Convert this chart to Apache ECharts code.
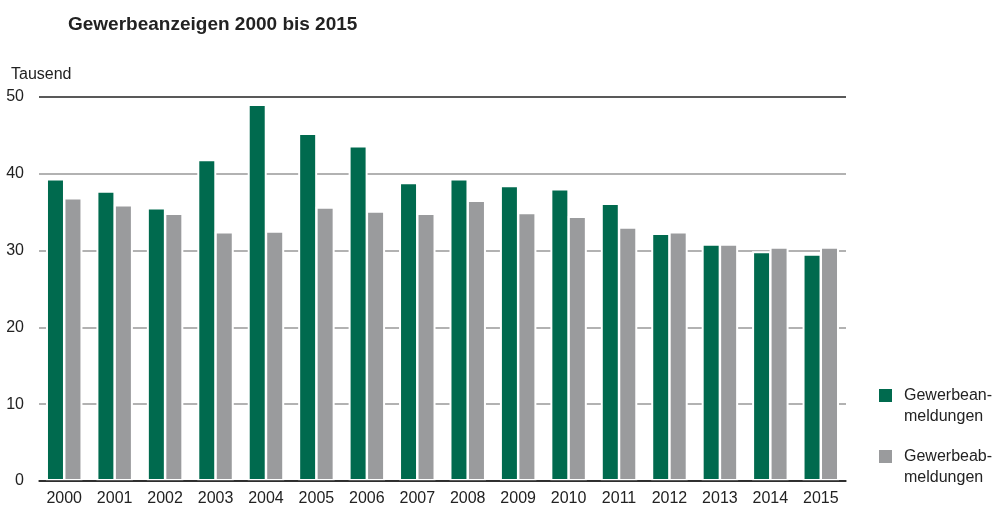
<!DOCTYPE html>
<html><head><meta charset="utf-8">
<script src="https://cdn.jsdelivr.net/npm/echarts@6/dist/echarts.min.js"></script>
<style>html,body{margin:0;padding:0;background:#fff}#c{width:1000px;height:529px}</style>
</head><body><div id="c"></div>
<script>
const years = ['2000','2001','2002','2003','2004','2005','2006','2007','2008','2009','2010','2011','2012','2013','2014','2015'];
const anmeldungen = [39.4,37.8,35.6,41.9,49.1,45.3,43.7,38.9,39.4,38.5,38.1,36.2,32.3,30.9,29.9,29.6];
const abmeldungen = [36.9,36.0,34.9,32.5,32.6,35.7,35.2,34.9,36.6,35.0,34.5,33.1,32.5,30.9,30.5,30.5];
const nameAn = 'Gewerbean-\nmeldungen';
const nameAb = 'Gewerbeab-\nmeldungen';
const font = 'Liberation Sans, Arial, sans-serif';

const chart = echarts.init(document.getElementById('c'), null, {renderer:'canvas'});
const legendText = {fontFamily:font, fontSize:16, color:'#222', lineHeight:21, padding:[0,0,0,6]};
const legendFmt = n => '\n' + n;
chart.setOption({
  animation:false,
  backgroundColor:'#fff',
  title:{text:'Gewerbeanzeigen 2000 bis 2015', left:63, top:10,
    textStyle:{fontFamily:font, fontSize:19, fontWeight:'bold', color:'#222'}},
  legend:[
    {data:[nameAn], orient:'vertical', left:872, top:359, padding:5, itemWidth:15, itemHeight:15, itemGap:0,
      icon:'rect', formatter:legendFmt, textStyle:legendText, selectedMode:false},
    {data:[nameAb], orient:'vertical', left:872, top:420, padding:5, itemWidth:15, itemHeight:15, itemGap:0,
      icon:'rect', formatter:legendFmt, textStyle:legendText, selectedMode:false}
  ],
  grid:{left:39, right:154, top:97, bottom:48, outerBoundsMode:'none', containLabel:false},
  xAxis:{type:'category', data:years, z:5,
    axisLine:{lineStyle:{color:'#222', width:1.5}},
    axisTick:{show:false},
    axisLabel:{fontFamily:font, fontSize:16, color:'#222', margin:10}},
  yAxis:{type:'value', min:0, max:50, interval:10,
    name:'Tausend', nameLocation:'end', nameGap:14,
    nameTextStyle:{fontFamily:font, fontSize:16, color:'#222', align:'left', padding:[0,0,0,-28]},
    axisLine:{show:false}, axisTick:{show:false},
    axisLabel:{fontFamily:font, fontSize:16, color:'#222', margin:15},
    splitLine:{lineStyle:{color:['#222','#999','#999','#999','#999','#222'], width:1.5}}},
  series:[
    {name:nameAn, type:'bar', data:anmeldungen, barWidth:19, barGap:'-8%',
      itemStyle:{color:'#006a4e', borderColor:'#fff', borderWidth:2}},
    {name:nameAb, type:'bar', data:abmeldungen, barWidth:19,
      itemStyle:{color:'#9a9b9d', borderColor:'#fff', borderWidth:2}}
  ]
});
</script></body></html>
